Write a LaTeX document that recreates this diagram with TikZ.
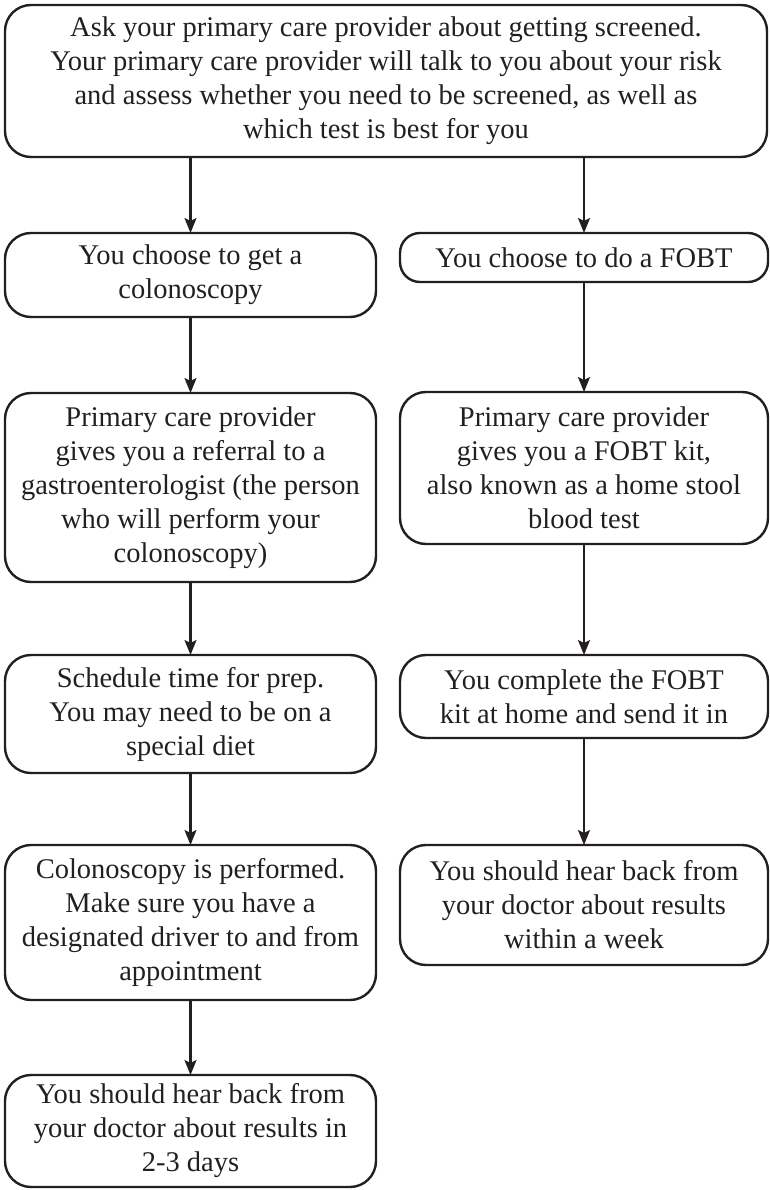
\documentclass[tikz,border=0pt]{standalone}
\usepackage{fontspec}
\setmainfont{Liberation Serif}
\usetikzlibrary{arrows.meta}
\definecolor{ink}{HTML}{231F20}
\begin{document}
\begin{tikzpicture}[x=1pt,y=-1pt,
  box/.style={draw=ink, line width=2.4pt, rounded corners=26pt, align=center,
    inner sep=0pt, outer sep=0pt, font=\fontsize{28.5}{34}\selectfont, text=ink},
  arr/.style={draw=ink, line width=2.2pt, -{Stealth[length=15pt,width=12pt,inset=3pt]}}]
\useasboundingbox (0,0) rectangle (769,1190);
\node[box, minimum width=762pt, minimum height=152pt] (t) at (386,81)
  {Ask your primary care provider about getting screened.\\Your primary care provider will talk to you about your risk\\and assess whether you need to be screened, as well as\\which test is best for you};
\node[box, minimum width=371pt, minimum height=84pt] (l1) at (190.5,275)
  {You choose to get a\\colonoscopy};
\node[box, minimum width=368pt, minimum height=49pt, rounded corners=20pt] (r1) at (584,257.5)
  {You choose to do a FOBT};
\node[box, minimum width=371pt, minimum height=189pt] (l2) at (190.5,487.5)
  {Primary care provider\\gives you a referral to a\\gastroenterologist (the person\\who will perform your\\colonoscopy)};
\node[box, minimum width=368pt, minimum height=152pt] (r2) at (584,468)
  {Primary care provider\\gives you a FOBT kit,\\also known as a home stool\\blood test};
\node[box, minimum width=371pt, minimum height=118pt] (l3) at (190.5,714)
  {Schedule time for prep.\\You may need to be on a\\special diet};
\node[box, minimum width=368pt, minimum height=83pt] (r3) at (584,696.5)
  {You complete the FOBT\\kit at home and send it in};
\node[box, minimum width=371pt, minimum height=155pt] (l4) at (190.5,922.5)
  {Colonoscopy is performed.\\Make sure you have a\\designated driver to and from\\appointment};
\node[box, minimum width=368pt, minimum height=120pt] (r4) at (584,905)
  {You should hear back from\\your doctor about results\\within a week};
\node[box, minimum width=371pt, minimum height=112pt] (l5) at (190.5,1131)
  {You should hear back from\\your doctor about results in\\2-3 days};
\draw[arr] (t.south -| l1.north) -- (l1.north);
\draw[arr] (t.south -| r1.north) -- (r1.north);
\draw[arr] (l1) -- (l2);
\draw[arr] (l2) -- (l3);
\draw[arr] (l3) -- (l4);
\draw[arr] (l4) -- (l5);
\draw[arr] (r1) -- (r2);
\draw[arr] (r2) -- (r3);
\draw[arr] (r3) -- (r4);
\end{tikzpicture}
\end{document}
